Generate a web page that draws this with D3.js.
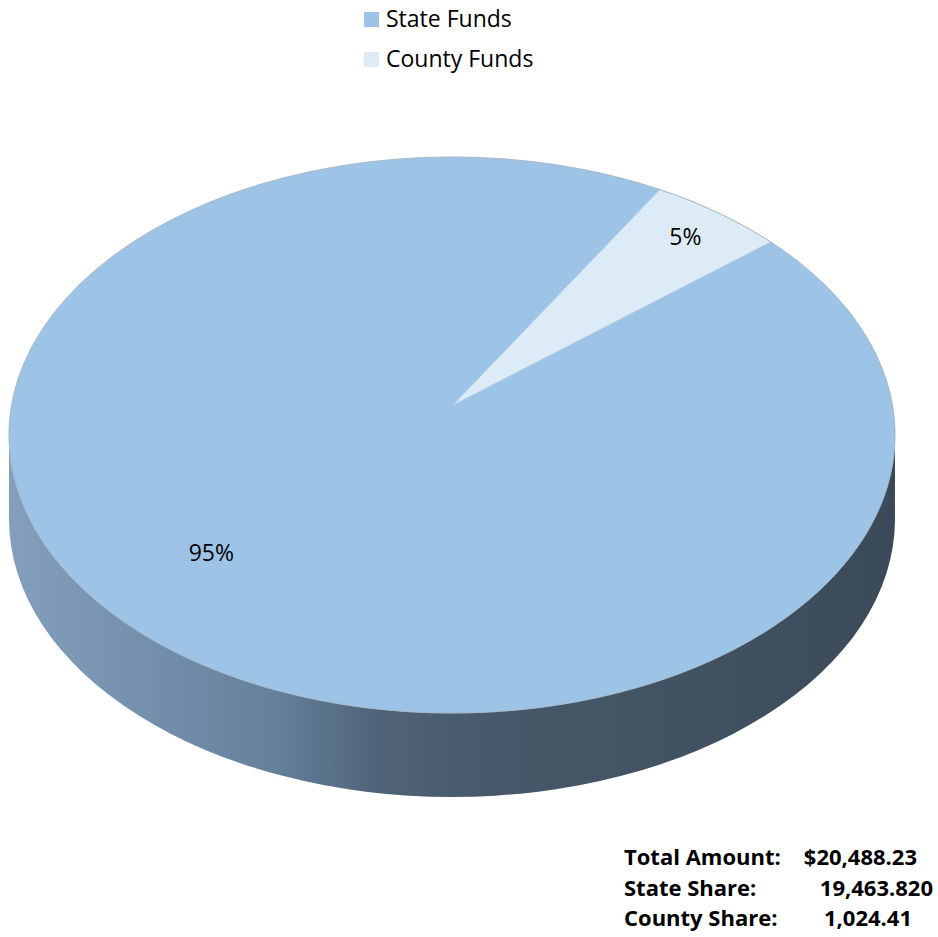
<!DOCTYPE html>
<html>
<head>
<meta charset="utf-8">
<script src="https://cdn.jsdelivr.net/npm/d3@7"></script>
<style>
  html, body { margin: 0; padding: 0; background: #ffffff; }
  svg { display: block; }
</style>
</head>
<body>
<svg id="chart" width="938" height="937"></svg>
<script>
// Funding split between state and county
const categories = ["State Funds", "County Funds"];
const amounts = [19463.82, 1024.41];
const topColors = ["#9dc3e6", "#ddebf7"];

// Summary block below the pie
const summaryLabels = ["Total Amount:", "State Share:", "County Share:"];
const summaryValues = ["$20,488.23", "19,463.820", "1,024.41"];

// Label placement inside each slice: fraction along the slice span, fraction of radius
const labelSpanAt = [0.538, 0.5];
const labelRadiusAt = [0.71, 0.875];

const svg = d3.select("#chart");
const FONT = "'Open Sans', 'Noto Sans', sans-serif";

// Pie geometry (tilted disc)
const cx = 452, cy = 435, rx = 443, ry = 278, depth = 84;
const apex = [453, 405];
const rotation = 46 * Math.PI / 180;

const rim = a => [cx + rx * Math.sin(a), cy - ry * Math.cos(a)];

const pie = d3.pie().sort(null).value(d => d)
  .startAngle(rotation).endAngle(rotation + 2 * Math.PI);
const arcs = pie(amounts);

// Side wall gradient (light at left, dark at right)
const defs = svg.append("defs");
const grad = defs.append("linearGradient")
  .attr("id", "sideGrad")
  .attr("gradientUnits", "userSpaceOnUse")
  .attr("x1", cx - rx).attr("x2", cx + rx).attr("y1", 0).attr("y2", 0);
[[0, "#839fbd"], [0.12, "#7893b0"], [0.3, "#64809b"], [0.42, "#4f6378"],
 [0.55, "#465869"], [0.8, "#405162"], [1, "#3b4a59"]].forEach(([o, c]) =>
  grad.append("stop").attr("offset", o).attr("stop-color", c));

// Side wall of the near half
svg.append("path")
  .attr("d", `M${cx - rx},${cy} A${rx},${ry} 0 0 0 ${cx + rx},${cy}
              L${cx + rx},${cy + depth} A${rx},${ry} 0 0 1 ${cx - rx},${cy + depth} Z`)
  .attr("fill", "url(#sideGrad)");

// Top faces
const slicePath = d => {
  const p0 = rim(d.startAngle), p1 = rim(d.endAngle);
  const large = (d.endAngle - d.startAngle) > Math.PI ? 1 : 0;
  return `M${apex[0]},${apex[1]} L${p0[0]},${p0[1]} A${rx},${ry} 0 ${large} 1 ${p1[0]},${p1[1]} Z`;
};

svg.append("g").selectAll("path")
  .data(arcs)
  .join("path")
  .attr("d", slicePath)
  .attr("fill", (d, i) => topColors[i])
  .attr("stroke", "#b3cde6")
  .attr("stroke-width", 0.8)
  .attr("stroke-linejoin", "round");

// Faint rim outline on the top ellipse
svg.append("ellipse")
  .attr("cx", cx).attr("cy", cy).attr("rx", rx).attr("ry", ry)
  .attr("fill", "none")
  .attr("stroke", "#9aa8b6")
  .attr("stroke-opacity", 0.6)
  .attr("stroke-width", 1);

// Percentage labels
const total = d3.sum(amounts);
const pct = d3.format(".0%");
svg.append("g").selectAll("text")
  .data(arcs)
  .join("text")
  .attr("transform", (d, i) => {
    const a = d.startAngle + labelSpanAt[i] * (d.endAngle - d.startAngle);
    const r = rim(a);
    const k = labelRadiusAt[i];
    return `translate(${apex[0] + k * (r[0] - apex[0])},${apex[1] + k * (r[1] - apex[1])})`;
  })
  .attr("text-anchor", "middle")
  .attr("dy", "0.35em")
  .attr("font-family", FONT)
  .attr("font-size", 23)
  .attr("fill", "#000")
  .text(d => pct(d.value / total));

// Legend
const legend = svg.append("g").attr("transform", "translate(364,0)");
const legendRows = legend.selectAll("g")
  .data(categories)
  .join("g")
  .attr("transform", (d, i) => `translate(0,${12 + i * 40})`);
legendRows.append("rect")
  .attr("width", 15).attr("height", 15)
  .attr("fill", (d, i) => topColors[i]);
legendRows.append("text")
  .attr("x", 22).attr("y", 15)
  .attr("font-family", FONT)
  .attr("font-size", 23)
  .attr("fill", "#000")
  .text(d => d);

// Summary block
const summary = svg.append("g")
  .attr("font-family", FONT)
  .attr("font-weight", "bold")
  .attr("font-size", 22)
  .attr("fill", "#000");
const valueEnds = [917, 933, 912];
summary.selectAll("text.lbl")
  .data(summaryLabels)
  .join("text")
  .attr("class", "lbl")
  .attr("x", 624)
  .attr("y", (d, i) => 865 + i * 30.5)
  .text(d => d);
summary.selectAll("text.val")
  .data(summaryValues)
  .join("text")
  .attr("class", "val")
  .attr("x", (d, i) => valueEnds[i])
  .attr("y", (d, i) => 865 + i * 30.5)
  .attr("text-anchor", "end")
  .text(d => d);
</script>
</body>
</html>
